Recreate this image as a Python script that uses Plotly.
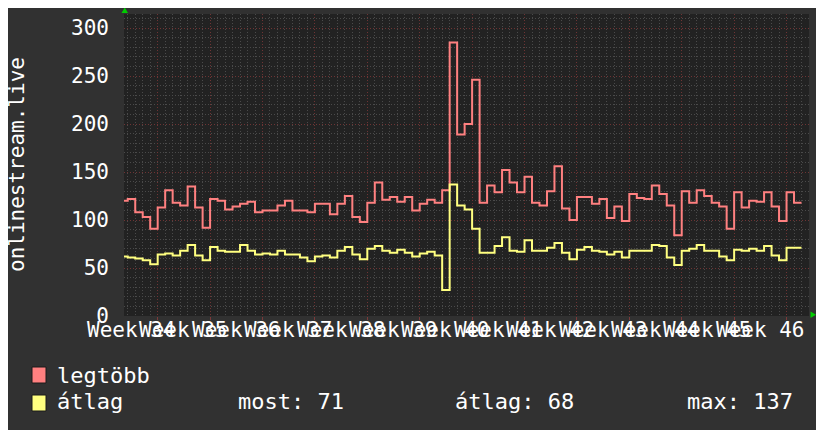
import plotly.graph_objects as go

# ---- data (day offsets relative to the Monday starting week 35) ----
days = list(range(-5, 86))
legtobb = [120, 122, 108, 103, 91, 113, 131, 118, 115, 135, 113, 92, 122, 120, 111, 114, 117, 119,
           108, 110, 110, 115, 120, 110, 110, 108, 117, 117, 106, 117, 125, 103, 98, 118, 139, 121,
           124, 119, 124, 110, 117, 121, 118, 131, 285, 189, 200, 246, 118, 136, 129, 152, 139, 129,
           145, 118, 115, 130, 156, 112, 100, 124, 124, 117, 122, 102, 114, 99, 127, 123, 122, 136,
           127, 115, 84, 130, 118, 131, 125, 118, 114, 91, 129, 113, 120, 119, 129, 114, 99, 129, 118]
atlag = [62, 61, 60, 58, 54, 64, 65, 63, 68, 74, 63, 58, 72, 68, 67, 67, 74, 68,
         64, 65, 64, 68, 64, 64, 61, 57, 62, 63, 61, 68, 72, 64, 59, 70, 73, 68,
         66, 69, 66, 62, 65, 67, 63, 27, 137, 115, 111, 91, 66, 66, 73, 82, 68, 67,
         79, 68, 68, 71, 76, 66, 59, 69, 72, 68, 67, 64, 67, 61, 68, 68, 68, 74,
         73, 61, 53, 68, 70, 74, 68, 68, 62, 58, 69, 68, 70, 68, 73, 63, 58, 71, 71]
week_labels = ["Week 34", "Week 35", "Week 36", "Week 37", "Week 38", "Week 39", "Week 40",
               "Week 41", "Week 42", "Week 43", "Week 44", "Week 45", "Week 46"]
week_label_days = [-3.5 + 7 * i for i in range(len(week_labels))]
y_title = "onlinestream.live"
series_names = ["legtöbb", "átlag"]
stats = ["most: 71", "átlag: 68", "max: 137"]

RED = "#ff8080"
YEL = "#ffff80"
FONT = "DejaVu Sans Mono"
W, H = 824, 430
OFF = 8  # page offset of the figure inside the browser window
L, T = 124 - OFF, 14 - OFF
PW, PH = 685, 302
R = W - L - PW
B = H - T - PH


def px(x):
    return (x - OFF - L) / PW


def py(y):
    return (T + PH - (y - OFF)) / PH


x_step = days + [days[-1] + 1]
fig = go.Figure()
fig.add_trace(go.Scatter(x=x_step, y=legtobb + [legtobb[-1]], mode="lines",
                         line=dict(color=RED, width=2, shape="hv"), showlegend=False))
fig.add_trace(go.Scatter(x=x_step, y=atlag + [atlag[-1]], mode="lines",
                         line=dict(color=YEL, width=2, shape="hv"), showlegend=False))

fig.update_layout(
    width=W, height=H,
    margin=dict(l=L, r=R, t=T, b=B),
    paper_bgcolor="#313131",
    plot_bgcolor="#222222",
    font=dict(family=FONT, size=21, color="#ffffff"),
    xaxis=dict(range=[-4.5, 87.0], tick0=0, dtick=7, showticklabels=False,
               showgrid=True, gridcolor="#6e3434", griddash="1px,2px", gridwidth=1,
               zeroline=False, showline=False, ticks="outside", ticklen=3, tickcolor="#7a3a3a",
               minor=dict(dtick=1, tick0=0, showgrid=True, gridcolor="#4a4a4a",
                          griddash="1px,2px", gridwidth=1)),
    yaxis=dict(range=[0, PH / 0.96], tick0=0, dtick=50, showgrid=True,
               gridcolor="#6e3434", griddash="1px,2px", gridwidth=1,
               zeroline=False, showline=False, ticks="", ticklabelstandoff=14,
               tickfont=dict(family=FONT, size=21, color="#ffffff"),
               minor=dict(dtick=10, tick0=0, showgrid=True, gridcolor="#4a4a4a",
                          griddash="1px,2px", gridwidth=1)),
)

ann = []
for d, lab in zip(week_label_days, week_labels):
    ann.append(dict(x=d, xref="x", y=py(330), yref="paper", text=lab, showarrow=False,
                    xanchor="center", yanchor="middle", font=dict(family=FONT, size=21, color="#ffffff")))
ann.append(dict(x=px(17), xref="paper", y=0.5, yref="paper", text=y_title, textangle=-90,
                showarrow=False, xanchor="center", yanchor="middle", borderpad=0,
                font=dict(family=FONT, size=21, color="#ffffff")))
LEG = dict(family=FONT, size=22, color="#ffffff")
ann.append(dict(x=px(55), xref="paper", y=py(375), yref="paper", text=series_names[0], showarrow=False,
                xanchor="left", yanchor="middle", font=LEG))
ann.append(dict(x=px(55), xref="paper", y=py(402), yref="paper", text=series_names[1], showarrow=False,
                xanchor="left", yanchor="middle", font=LEG))
for sx, s in zip([236, 453, 685], stats):
    ann.append(dict(x=px(sx), xref="paper", y=py(402), yref="paper", text=s, showarrow=False,
                    xanchor="left", yanchor="middle", font=LEG))
fig.update_layout(annotations=ann)

shapes = [
    dict(type="rect", xref="paper", yref="paper", x0=px(32), x1=px(46), y0=py(383), y1=py(367),
         fillcolor=RED, line=dict(color="#1a1a1a", width=1)),
    dict(type="rect", xref="paper", yref="paper", x0=px(32), x1=px(46), y0=py(411), y1=py(395),
         fillcolor=YEL, line=dict(color="#1a1a1a", width=1)),
    dict(type="path", xref="paper", yref="paper",
         path=f"M {px(121.5)} {py(13)} L {px(128)} {py(13)} L {px(124.75)} {py(7.5)} Z",
         fillcolor="#00cc00", line=dict(width=0)),
    dict(type="path", xref="paper", yref="paper",
         path=f"M {px(810.5)} {py(311.5)} L {px(810.5)} {py(318)} L {px(816)} {py(314.75)} Z",
         fillcolor="#00cc00", line=dict(width=0)),
]
fig.update_layout(shapes=shapes)

fig.write_html("out.html")
